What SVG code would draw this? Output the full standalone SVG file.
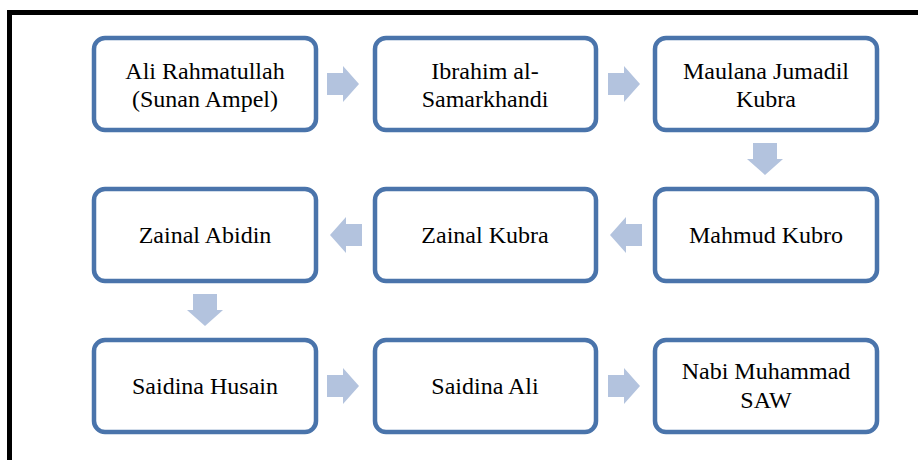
<svg xmlns="http://www.w3.org/2000/svg" width="918" height="460" viewBox="0 0 918 460">
<style>
.box{fill:#fff;stroke:#4a74ab;stroke-width:4.5}
.t{font-size:24px;fill:#000;text-anchor:middle}
.ar{fill:#b3c3de}
</style>
<defs>
<path id="ra" d="M-16,-11 H0 V-18 L16,0 L0,18 V11 H-16 Z"/>
<path id="da" d="M-12,-16 V0 H-18 L0,16 L18,0 H12 V-16 Z"/>
</defs>
<rect x="9.5" y="12.5" width="930" height="470" fill="#fff" stroke="#000" stroke-width="5"/>
<g id="connectors">
<use href="#ra" class="ar" x="343" y="84"/>
<use href="#ra" class="ar" x="624" y="84"/>
<use href="#da" class="ar" x="765" y="159"/>
<use href="#ra" class="ar" x="626" y="235" transform="rotate(180 626 235)"/>
<use href="#ra" class="ar" x="346" y="235" transform="rotate(180 346 235)"/>
<use href="#da" class="ar" x="205" y="310"/>
<use href="#ra" class="ar" x="343" y="386"/>
<use href="#ra" class="ar" x="624" y="386"/>
</g>
<g font-family="'Liberation Serif', 'Times New Roman', 'DejaVu Serif', serif">
<g id="n1"><rect class="box" x="94" y="38" width="222" height="92" rx="11"/><text class="t" x="205" y="79">Ali Rahmatullah</text><text class="t" x="205" y="107">(Sunan Ampel)</text></g>
<g id="n2"><rect class="box" x="375" y="38" width="221" height="92" rx="11"/><text class="t" x="485" y="79">Ibrahim al-</text><text class="t" x="485" y="107">Samarkhandi</text></g>
<g id="n3"><rect class="box" x="655" y="38" width="222" height="92" rx="11"/><text class="t" x="766" y="79">Maulana Jumadil</text><text class="t" x="766" y="107">Kubra</text></g>
<g id="n4"><rect class="box" x="655" y="189" width="222" height="92" rx="11"/><text class="t" x="766" y="243">Mahmud Kubro</text></g>
<g id="n5"><rect class="box" x="375" y="189" width="221" height="92" rx="11"/><text class="t" x="485" y="243">Zainal Kubra</text></g>
<g id="n6"><rect class="box" x="94" y="189" width="222" height="92" rx="11"/><text class="t" x="205" y="243">Zainal Abidin</text></g>
<g id="n7"><rect class="box" x="94" y="340" width="222" height="92" rx="11"/><text class="t" x="205" y="394">Saidina Husain</text></g>
<g id="n8"><rect class="box" x="375" y="340" width="221" height="92" rx="11"/><text class="t" x="485" y="394">Saidina Ali</text></g>
<g id="n9"><rect class="box" x="655" y="340" width="222" height="92" rx="11"/><text class="t" x="766" y="379">Nabi Muhammad</text><text class="t" x="766" y="408">SAW</text></g>
</g>
</svg>
